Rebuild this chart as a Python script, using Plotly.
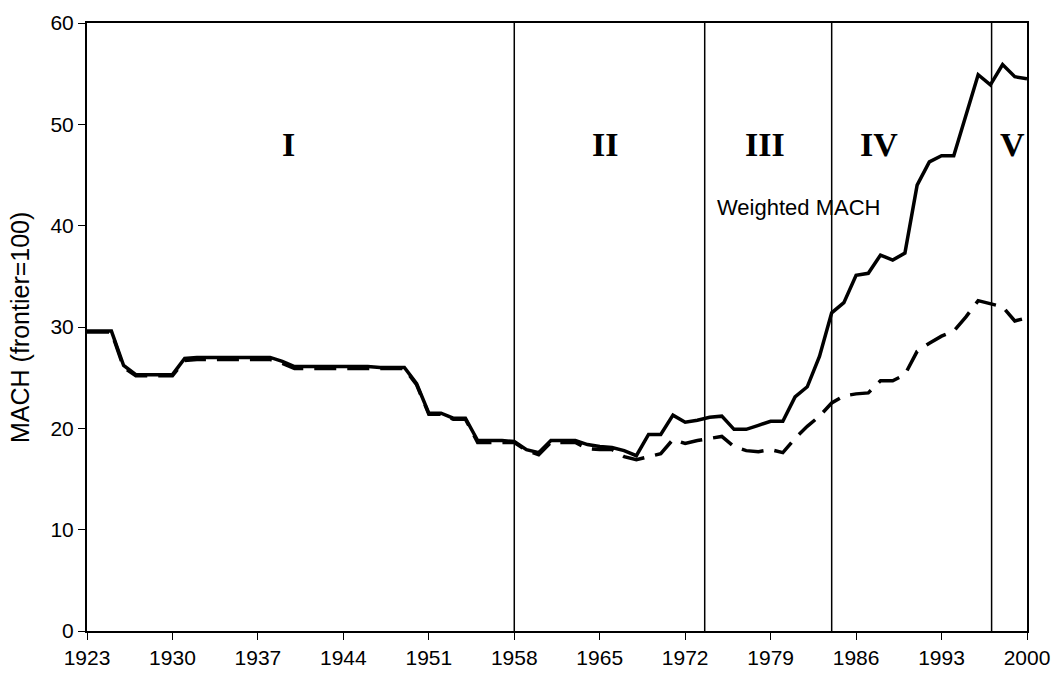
import plotly.graph_objects as go

years = list(range(1923, 2001))

weighted_mach = [
    29.6, 29.6, 29.6, 26.2, 25.3, 25.3, 25.3, 25.3, 26.9, 27.0,   # 1923-1932
    27.0, 27.0, 27.0, 27.0, 27.0, 27.0, 26.6, 26.1, 26.1, 26.1,   # 1933-1942
    26.1, 26.1, 26.1, 26.1, 26.0, 26.0, 26.0, 24.4, 21.5, 21.5,   # 1943-1952
    21.0, 21.0, 18.8, 18.8, 18.8, 18.7, 17.9, 17.6, 18.8, 18.8,   # 1953-1962
    18.8, 18.4, 18.2, 18.1, 17.8, 17.3, 19.4, 19.4, 21.3, 20.6,   # 1963-1972
    20.8, 21.1, 21.2, 19.9, 19.9, 20.3, 20.7, 20.7, 23.1, 24.1,   # 1973-1982
    27.1, 31.4, 32.4, 35.1, 35.3, 37.1, 36.6, 37.3, 44.0, 46.3,   # 1983-1992
    46.9, 46.9, 50.8, 54.9, 53.9, 55.9, 54.7, 54.5,               # 1993-2000
]

unweighted_mach = [
    29.5, 29.5, 29.5, 26.0, 25.2, 25.2, 25.2, 25.2, 26.7, 26.8,   # 1923-1932
    26.8, 26.8, 26.8, 26.8, 26.8, 26.8, 26.4, 25.9, 25.9, 25.9,   # 1933-1942
    25.9, 25.9, 25.9, 25.9, 25.9, 25.9, 25.9, 24.3, 21.4, 21.4,   # 1943-1952
    20.9, 20.9, 18.6, 18.6, 18.6, 18.6, 17.8, 17.4, 18.6, 18.6,   # 1953-1962
    18.6, 18.0, 17.9, 17.9, 17.2, 16.9, 17.2, 17.5, 18.9, 18.5,   # 1963-1972
    18.8, 19.0, 19.2, 18.2, 17.8, 17.7, 17.9, 17.6, 19.0, 20.2,   # 1973-1982
    21.2, 22.5, 23.2, 23.4, 23.5, 24.7, 24.7, 25.3, 27.6, 28.4,   # 1983-1992
    29.1, 29.6, 31.0, 32.6, 32.3, 32.0, 30.6, 30.9,               # 1993-2000
]

period_breaks = [1958, 1973.6, 1984, 1997.1]
period_labels = ["I", "II", "III", "IV", "V"]
period_label_x = [1939.5, 1965.4, 1978.5, 1987.9, 1998.8]
period_label_y = 48.0

series_label = "Weighted MACH"
series_label_x = 1981.3
series_label_y = 41.8

x_ticks = list(range(1923, 2001, 7))
y_ticks = [0, 10, 20, 30, 40, 50, 60]

fig = go.Figure()
fig.add_trace(go.Scatter(x=years, y=unweighted_mach, mode="lines",
                         line=dict(color="black", width=3.5, dash="22px,11px"),
                         showlegend=False, hoverinfo="skip"))
fig.add_trace(go.Scatter(x=years, y=weighted_mach, mode="lines",
                         line=dict(color="black", width=3.5),
                         showlegend=False, hoverinfo="skip"))

for xb in period_breaks:
    fig.add_shape(type="line", x0=xb, x1=xb, y0=0, y1=60, xref="x", yref="y",
                  line=dict(color="black", width=1.5))

for lab, lx in zip(period_labels, period_label_x):
    fig.add_annotation(x=lx, y=period_label_y, text="<b>%s</b>" % lab, showarrow=False,
                       font=dict(family="Liberation Serif", size=34, color="black"))

fig.add_annotation(x=series_label_x, y=series_label_y, text=series_label, showarrow=False,
                   font=dict(family="Liberation Sans", size=22, color="black"))

fig.add_annotation(xref="paper", yref="paper", x=-0.0713, y=0.5, text="MACH (frontier=100)",
                   textangle=-90, showarrow=False, xanchor="center", yanchor="middle",
                   font=dict(family="Liberation Sans", size=25, color="black"))

fig.update_layout(
    width=1053, height=674,
    margin=dict(l=87, r=26, t=23, b=43, autoexpand=False),
    paper_bgcolor="white", plot_bgcolor="white",
    font=dict(family="Liberation Sans", size=21, color="black"),
    xaxis=dict(range=[1923, 2000], tickvals=x_ticks, ticktext=[str(t) for t in x_ticks],
               showgrid=False, zeroline=False, showline=True, linecolor="black", linewidth=2,
               mirror=True, ticks="outside", ticklen=7, tickcolor="black", tickwidth=1),
    yaxis=dict(range=[0, 60], tickvals=y_ticks, showgrid=False, zeroline=False,
               showline=True, linecolor="black", linewidth=2, mirror=True,
               ticks="outside", ticklen=7, tickcolor="black", tickwidth=1),
)

fig.write_html("out.html", config={"displayModeBar": False},
               post_script="document.body.style.margin='0';document.body.style.overflow='hidden';")
